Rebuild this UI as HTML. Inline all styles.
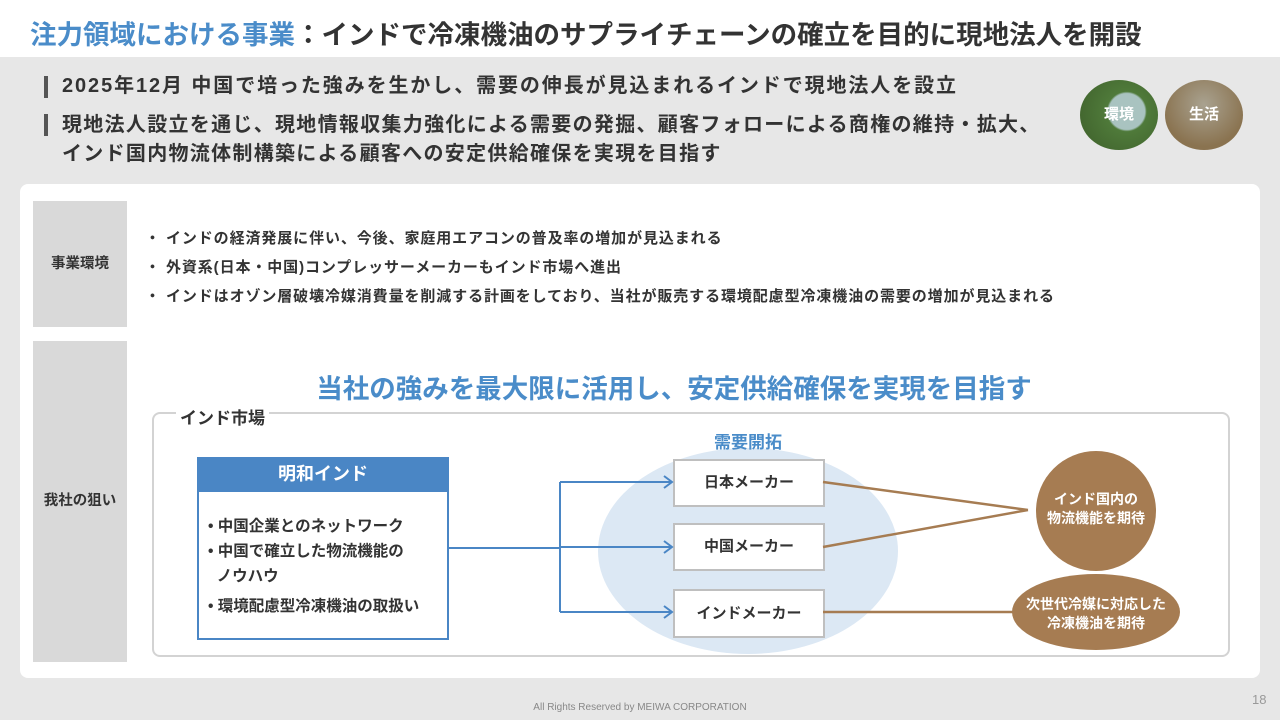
<!DOCTYPE html>
<html><head><meta charset="utf-8"><style>
body{margin:0;width:1280px;height:720px;position:relative;background:#e7e7e7;font-family:"Liberation Sans","Noto Sans CJK JP",sans-serif;overflow:hidden}
.a{position:absolute}
.b{font-weight:bold}
</style></head><body>
<div class="a" style="left:0;top:0;width:1280px;height:57px;background:#fff"></div>
<div class="a b" style="left:30px;top:13px;font-size:26.5px;color:#333;white-space:nowrap"><span style="color:#4a8cc9">注力領域における事業</span>：インドで冷凍機油のサプライチェーンの確立を目的に現地法人を開設</div>
<div class="a" style="left:44px;top:76px;width:4px;height:22px;background:#555"></div>
<div class="a" style="left:44px;top:114px;width:4px;height:22px;background:#555"></div>
<div class="a b" style="left:62px;top:72px;font-size:20px;letter-spacing:1.9px;color:#333;line-height:29px;white-space:nowrap">2025年12月 中国で培った強みを生かし、需要の伸長が見込まれるインドで現地法人を設立</div>
<div class="a b" style="left:62px;top:111px;font-size:20px;letter-spacing:1.3px;color:#333;line-height:29px;white-space:nowrap">現地法人設立を通じ、現地情報収集力強化による需要の発掘、顧客フォローによる商権の維持・拡大、<br>インド国内物流体制構築による顧客への安定供給確保を実現を目指す</div>
<div class="a b" style="left:1080px;top:80px;width:78px;height:70px;border-radius:50%;background:radial-gradient(circle at 60% 45%,#a9c3c0 0 18px,#4f7a3a 20px,#3d5e2a);color:#fff;font-size:15px;text-align:center;line-height:70px">環境</div>
<div class="a b" style="left:1165px;top:80px;width:78px;height:70px;border-radius:50%;background:radial-gradient(circle at 50% 35%,#a9a290,#8a7350 70%);color:#fff;font-size:15px;text-align:center;line-height:70px">生活</div>

<div class="a" style="left:20px;top:184px;width:1240px;height:494px;background:#fff;border-radius:8px"></div>
<div class="a b" style="left:33px;top:201px;width:94px;height:126px;background:#d9d9d9;font-size:14.5px;color:#333;text-align:center;line-height:126px">事業環境</div>
<div class="a b" style="left:33px;top:341px;width:94px;height:321px;background:#d9d9d9;font-size:14.5px;color:#333;text-align:center;line-height:321px">我社の狙い</div>
<div class="a b" style="left:145px;top:224px;font-size:15px;letter-spacing:0.9px;color:#333;line-height:29px;white-space:nowrap">・ インドの経済発展に伴い、今後、家庭用エアコンの普及率の増加が見込まれる<br>・ 外資系(日本・中国)コンプレッサーメーカーもインド市場へ進出<br>・ インドはオゾン層破壊冷媒消費量を削減する計画をしており、当社が販売する環境配慮型冷凍機油の需要の増加が見込まれる</div>
<div class="a b" style="left:0;width:1348px;top:367px;text-align:center;font-size:26.5px;color:#4a8cc9;white-space:nowrap">当社の強みを最大限に活用し、安定供給確保を実現を目指す</div>

<div class="a" style="left:152px;top:412px;width:1074px;height:241px;border:2px solid #d3d3d3;border-radius:8px"></div>
<div class="a b" style="left:176px;top:404px;background:#fff;padding:0 4px;font-size:17px;color:#333">インド市場</div>
<div class="a" style="left:598px;top:448px;width:300px;height:206px;border-radius:50%;background:#dce8f4"></div>
<div class="a b" style="left:598px;top:428px;width:300px;text-align:center;font-size:17px;color:#4a8cc9">需要開拓</div>

<div class="a" style="left:197px;top:457px;width:248px;height:179px;border:2px solid #4a86c5;background:#fff"></div>
<div class="a b" style="left:197px;top:457px;width:252px;height:35px;background:#4a86c5;color:#fff;font-size:18px;text-align:center;line-height:35px">明和インド</div>
<div class="a b" style="left:208px;top:514px;font-size:15.5px;color:#333;line-height:25px;white-space:nowrap">• 中国企業とのネットワーク<br>• 中国で確立した物流機能の<br>&nbsp;&nbsp;ノウハウ<br><span style="line-height:36px">• 環境配慮型冷凍機油の取扱い</span></div>

<div class="a" style="left:673px;top:459px;width:148px;height:44px;border:2px solid #bfbfbf;background:#fff;font-size:15px;color:#333;text-align:center;line-height:44px"><b>日本メーカー</b></div>
<div class="a" style="left:673px;top:523px;width:148px;height:44px;border:2px solid #bfbfbf;background:#fff;font-size:15px;color:#333;text-align:center;line-height:44px"><b>中国メーカー</b></div>
<div class="a" style="left:673px;top:589px;width:148px;height:45px;border:2px solid #bfbfbf;background:#fff;font-size:15px;color:#333;text-align:center;line-height:45px"><b>インドメーカー</b></div>

<svg class="a" style="left:0;top:0" width="1280" height="720">
<g stroke="#4a86c5" stroke-width="2" fill="none">
<path d="M447 548H560M560 482V612M560 482H672M560 547H672M560 612H672"/>
<path d="M664 476L672 482L664 488M664 541L672 547L664 553M664 606L672 612L664 618"/>
</g>
<g stroke="#a67c52" stroke-width="2.5">
<path d="M823 482L1028 510M823 547L1028 510M823 612L1014 612"/>
</g>
<circle cx="1096" cy="511" r="60" fill="#a67c52"/>
<ellipse cx="1096" cy="612" rx="84" ry="38" fill="#a67c52"/>
</svg>
<div class="a b" style="left:1030px;top:490px;width:132px;text-align:center;color:#fff;font-size:14px;line-height:19px">インド国内の<br>物流機能を期待</div>
<div class="a b" style="left:1006px;top:595px;width:180px;text-align:center;color:#fff;font-size:14px;line-height:19px">次世代冷媒に対応した<br>冷凍機油を期待</div>
<div class="a" style="left:0;width:1280px;top:702px;text-align:center;font-size:10px;color:#888">All Rights Reserved by MEIWA CORPORATION</div>
<div class="a" style="left:1252px;top:692px;font-size:13px;color:#999">18</div>
</body></html>
